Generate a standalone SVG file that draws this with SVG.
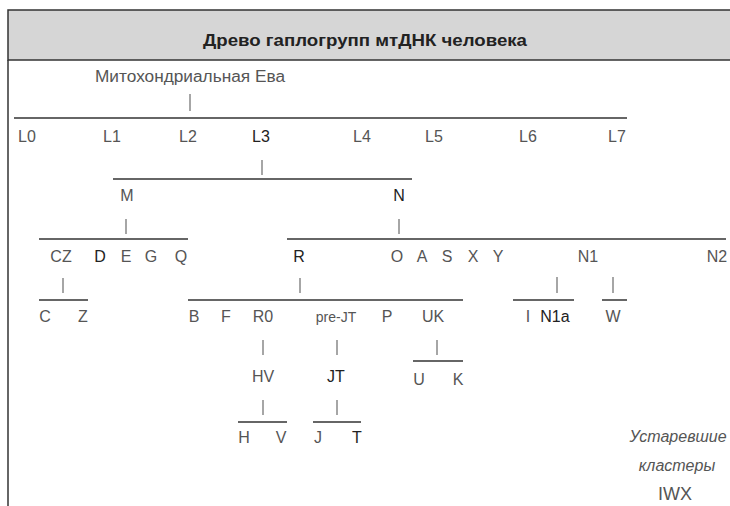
<svg xmlns="http://www.w3.org/2000/svg" width="730" height="506" viewBox="0 0 730 506">
<style>
text{font-family:"Liberation Sans",Arial,sans-serif;font-size:16px;fill:#555;text-anchor:middle}
.dk{fill:#222}
.sm{font-size:14px}
.it{font-style:italic;font-size:16px}
.title{font-weight:bold;fill:#222;font-size:17px}
.h{stroke:#333;stroke-width:1.5}
.t{stroke:#888;stroke-width:1.5}
</style>
<rect x="0" y="0" width="730" height="506" fill="#fff"/>
<g id="frame">
<rect x="8" y="10" width="730" height="50" fill="#d6d6d6" stroke="#333" stroke-width="1.5"/>
<line x1="8" y1="60" x2="8" y2="506" stroke="#333" stroke-width="1.5"/>
<text class="title" x="365" y="46" textLength="324" lengthAdjust="spacingAndGlyphs">Древо гаплогрупп мтДНК человека</text>
</g>
<g id="connectors">
<line class="t" x1="190" y1="94" x2="190" y2="111"/>
<line class="h" x1="14" y1="118" x2="627" y2="118"/>
<line class="t" x1="262" y1="160" x2="262" y2="175"/>
<line class="h" x1="113" y1="179" x2="412" y2="179"/>
<line class="t" x1="126" y1="219" x2="126" y2="234"/>
<line class="t" x1="399" y1="219" x2="399" y2="234"/>
<line class="h" x1="39" y1="239" x2="188" y2="239"/>
<line class="h" x1="287" y1="239" x2="726" y2="239"/>
<line class="t" x1="63" y1="278" x2="63" y2="293"/>
<line class="t" x1="300" y1="278" x2="300" y2="293"/>
<line class="t" x1="557" y1="277" x2="557" y2="293"/>
<line class="t" x1="613" y1="277" x2="613" y2="293"/>
<line class="h" x1="39" y1="300" x2="88" y2="300"/>
<line class="h" x1="188" y1="300" x2="463" y2="300"/>
<line class="h" x1="513" y1="300" x2="574" y2="300"/>
<line class="h" x1="602" y1="300" x2="627" y2="300"/>
<line class="t" x1="263" y1="340" x2="263" y2="355"/>
<line class="t" x1="337" y1="340" x2="337" y2="355"/>
<line class="t" x1="437" y1="340" x2="437" y2="355"/>
<line class="h" x1="413" y1="361" x2="463" y2="361"/>
<line class="t" x1="263" y1="400" x2="263" y2="415"/>
<line class="t" x1="337" y1="400" x2="337" y2="415"/>
<line class="h" x1="238" y1="422" x2="287" y2="422"/>
<line class="h" x1="313" y1="422" x2="361" y2="422"/>
</g>
<g id="eve"><text x="190" y="82" textLength="190" lengthAdjust="spacingAndGlyphs">Митохондриальная Ева</text></g>
<g id="L0"><text x="27" y="142">L0</text></g>
<g id="L1"><text x="112" y="142">L1</text></g>
<g id="L2"><text x="188" y="142">L2</text></g>
<g id="L3"><text x="261" y="142" class="dk">L3</text></g>
<g id="L4"><text x="362" y="142">L4</text></g>
<g id="L5"><text x="434" y="142">L5</text></g>
<g id="L6"><text x="528" y="142">L6</text></g>
<g id="L7"><text x="617" y="142">L7</text></g>
<g id="M"><text x="127" y="201">M</text></g>
<g id="N"><text x="399" y="201" class="dk">N</text></g>
<g id="CZ"><text x="61" y="262">CZ</text></g>
<g id="D"><text x="100" y="262" class="dk">D</text></g>
<g id="E"><text x="126" y="262">E</text></g>
<g id="G"><text x="151" y="262">G</text></g>
<g id="Q"><text x="181" y="262">Q</text></g>
<g id="R"><text x="299" y="262" class="dk">R</text></g>
<g id="O"><text x="397" y="262">O</text></g>
<g id="A"><text x="422" y="262">A</text></g>
<g id="S"><text x="447" y="262">S</text></g>
<g id="X"><text x="473" y="262">X</text></g>
<g id="Y"><text x="498" y="262">Y</text></g>
<g id="N1"><text x="588" y="262">N1</text></g>
<g id="N2"><text x="717" y="262">N2</text></g>
<g id="C"><text x="45" y="322">C</text></g>
<g id="Z"><text x="83" y="322">Z</text></g>
<g id="B"><text x="194" y="322">B</text></g>
<g id="F"><text x="226" y="322">F</text></g>
<g id="R0"><text x="263" y="322">R0</text></g>
<g id="preJT"><text x="336" y="322" class="sm">pre-JT</text></g>
<g id="P"><text x="387" y="322">P</text></g>
<g id="UK"><text x="433" y="322">UK</text></g>
<g id="I"><text x="528" y="322">I</text></g>
<g id="N1a"><text x="555" y="322" class="dk">N1a</text></g>
<g id="W"><text x="613" y="322">W</text></g>
<g id="HV"><text x="263" y="382">HV</text></g>
<g id="JT"><text x="336" y="382" class="dk">JT</text></g>
<g id="U"><text x="419" y="385">U</text></g>
<g id="K"><text x="458" y="385">K</text></g>
<g id="H"><text x="244" y="443">H</text></g>
<g id="V"><text x="281" y="443">V</text></g>
<g id="J"><text x="318" y="443">J</text></g>
<g id="T"><text x="357" y="443" class="dk">T</text></g>
<g id="obsolete">
<text x="678" y="442" class="it">Устаревшие</text>
<text x="677" y="471" class="it">кластеры</text>
<text x="675" y="500" style="font-size:18px">IWX</text>
</g>
</svg>
